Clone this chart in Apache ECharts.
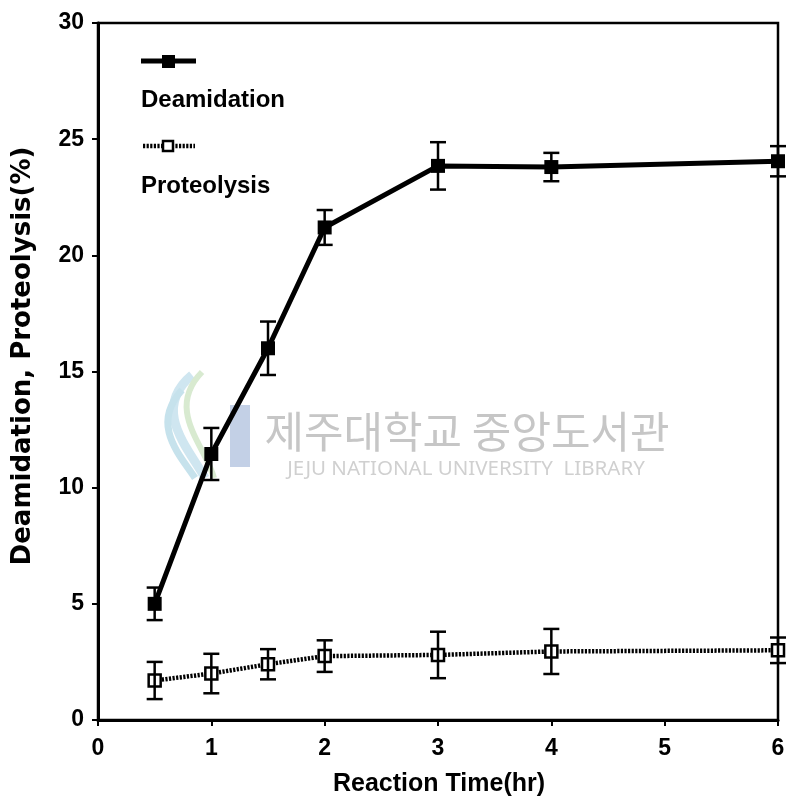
<!DOCTYPE html>
<html>
<head>
<meta charset="utf-8">
<script src="https://cdn.jsdelivr.net/npm/echarts@6/dist/echarts.min.js"></script>
<style>
html,body{margin:0;padding:0;background:#fff;}
#chart{width:788px;height:805px;}
</style>
</head>
<body>
<div id="chart"></div>
<script>
// ---- data ----
var times = [0.5, 1, 1.5, 2, 3, 4, 6];
var deamidation = [5.0, 11.45, 16.0, 21.2, 23.85, 23.8, 24.05];
var deamidationErr = [0.7, 1.12, 1.15, 0.75, 1.02, 0.61, 0.65];
var proteolysis = [1.7, 2.0, 2.4, 2.75, 2.8, 2.95, 3.0];
var proteolysisErr = [0.8, 0.85, 0.65, 0.68, 1.0, 0.97, 0.55];
var xTicks = [0, 1, 2, 3, 4, 5, 6];
var yTicks = [0, 5, 10, 15, 20, 25, 30];
var seriesNames = ['Deamidation', 'Proteolysis'];
var xTitle = 'Reaction Time(hr)';
var yTitle = 'Deamidation, Proteolysis(%)';
var watermarkKo = '제주대학교 중앙도서관';
var watermarkEn = 'JEJU NATIONAL UNIVERSITY  LIBRARY';

function pairs(xs, ys) { return xs.map(function (x, i) { return [x, ys[i]]; }); }
function errTriples(xs, ys, es) { return xs.map(function (x, i) { return [x, ys[i], es[i]]; }); }

function errRender(params, api) {
  var x = api.value(0), y = api.value(1), e = api.value(2);
  var hi = api.coord([x, y + e]);
  var lo = api.coord([x, y - e]);
  var cw = 8;
  var st = { stroke: '#000', lineWidth: 2.5 };
  return {
    type: 'group',
    children: [
      { type: 'line', shape: { x1: hi[0], y1: hi[1], x2: lo[0], y2: lo[1] }, style: st },
      { type: 'line', shape: { x1: hi[0] - cw, y1: hi[1], x2: hi[0] + cw, y2: hi[1] }, style: st },
      { type: 'line', shape: { x1: lo[0] - cw, y1: lo[1], x2: lo[0] + cw, y2: lo[1] }, style: st }
    ]
  };
}

var labelFont = 'Liberation Sans, Arial, sans-serif';
var chart = echarts.init(document.getElementById('chart'), null, { renderer: 'canvas' });

var option = {
  backgroundColor: '#fff',
  animation: false,
  grid: { left: 98, right: 10, top: 23, bottom: 85, show: true, borderColor: '#000', borderWidth: 2.5, backgroundColor: 'transparent' },
  xAxis: {
    type: 'value', min: xTicks[0], max: xTicks[xTicks.length - 1], interval: 1,
    axisLine: { show: true, lineStyle: { color: '#000', width: 3 } },
    axisTick: { show: true, length: 6, lineStyle: { color: '#000', width: 2 } },
    axisLabel: { color: '#000', fontSize: 23, fontWeight: 'bold', fontFamily: labelFont, margin: 17 },
    splitLine: { show: false }
  },
  yAxis: {
    type: 'value', min: yTicks[0], max: yTicks[yTicks.length - 1], interval: 5,
    axisLine: { show: true, lineStyle: { color: '#000', width: 3 } },
    axisTick: { show: true, length: 6, lineStyle: { color: '#000', width: 2 } },
    axisLabel: { color: '#000', fontSize: 23, fontWeight: 'bold', fontFamily: labelFont, margin: 14 },
    splitLine: { show: false }
  },
  graphic: [
    // watermark logo (approximate)
    { type: 'bezierCurve', z: 0, shape: { x1: 192, y1: 375, x2: 205, y2: 478, cpx1: 150, cpy1: 410, cpx2: 190, cpy2: 450 }, style: { stroke: '#cfe6f0', lineWidth: 9, fill: null } },
    { type: 'bezierCurve', z: 0, shape: { x1: 202, y1: 372, x2: 214, y2: 478, cpx1: 165, cpy1: 410, cpx2: 205, cpy2: 445 }, style: { stroke: '#d8ead0', lineWidth: 6, fill: null } },
    { type: 'bezierCurve', z: 0, shape: { x1: 182, y1: 390, x2: 195, y2: 478, cpx1: 150, cpy1: 425, cpx2: 180, cpy2: 455 }, style: { stroke: '#c6e2ec', lineWidth: 7, fill: null } },
    { type: 'rect', z: 0, shape: { x: 230, y: 405, width: 20, height: 62 }, style: { fill: '#c3d0e6' } },
    { type: 'text', z: 0, x: 467, y: 432, style: { text: watermarkKo, fill: '#c6c6c6', fontSize: 43, fontFamily: 'Noto Sans CJK KR', fontWeight: 'normal', textAlign: 'center', textVerticalAlign: 'middle' } },
    { type: 'text', z: 0, x: 466, y: 469, style: { text: watermarkEn, fill: '#d0d0d0', fontSize: 20.5, fontFamily: 'Noto Sans', textAlign: 'center', textVerticalAlign: 'middle' } },
    // legend
    { type: 'line', z: 10, shape: { x1: 141, y1: 61, x2: 196, y2: 61 }, style: { stroke: '#000', lineWidth: 5 } },
    { type: 'rect', z: 11, shape: { x: 162, y: 55, width: 13, height: 13 }, style: { fill: '#000' } },
    { type: 'text', z: 10, x: 141, y: 100, style: { text: seriesNames[0], fill: '#000', fontSize: 24, fontWeight: 'bold', fontFamily: labelFont, textAlign: 'left', textVerticalAlign: 'middle' } },
    { type: 'line', z: 10, shape: { x1: 143, y1: 146, x2: 195, y2: 146 }, style: { stroke: '#000', lineWidth: 4.5, lineDash: [2.2, 1.4] } },
    { type: 'rect', z: 11, shape: { x: 163, y: 141, width: 10, height: 10 }, style: { fill: '#fff', stroke: '#000', lineWidth: 2.5 } },
    { type: 'text', z: 10, x: 141, y: 186, style: { text: seriesNames[1], fill: '#000', fontSize: 24, fontWeight: 'bold', fontFamily: labelFont, textAlign: 'left', textVerticalAlign: 'middle' } },
    // axis titles
    { type: 'text', z: 10, x: 23, y: 356, rotation: Math.PI / 2, style: { text: yTitle, fill: '#000', fontSize: 26, fontWeight: 'bold', fontFamily: 'DejaVu Sans', textAlign: 'center', textVerticalAlign: 'middle' } },
    { type: 'text', z: 10, x: 439, y: 784, style: { text: xTitle, fill: '#000', fontSize: 25, fontWeight: 'bold', fontFamily: labelFont, textAlign: 'center', textVerticalAlign: 'middle' } }
  ],
  series: [
    {
      name: seriesNames[1], type: 'line', data: pairs(times, proteolysis), clip: false, z: 3,
      symbol: 'rect', symbolSize: 12,
      itemStyle: { color: '#fff', borderColor: '#000', borderWidth: 2.5 },
      lineStyle: { color: '#000', width: 4.5, type: [2.2, 1.4] }
    },
    {
      name: seriesNames[1] + ' err', type: 'custom', data: errTriples(times, proteolysis, proteolysisErr), clip: false, z: 4,
      renderItem: errRender
    },
    {
      name: seriesNames[0], type: 'line', data: pairs(times, deamidation), clip: false, z: 5,
      symbol: 'rect', symbolSize: 14,
      itemStyle: { color: '#000', borderColor: '#000', borderWidth: 0 },
      lineStyle: { color: '#000', width: 5 }
    },
    {
      name: seriesNames[0] + ' err', type: 'custom', data: errTriples(times, deamidation, deamidationErr), clip: false, z: 6,
      renderItem: errRender
    }
  ]
};
chart.setOption(option);
</script>
</body>
</html>
